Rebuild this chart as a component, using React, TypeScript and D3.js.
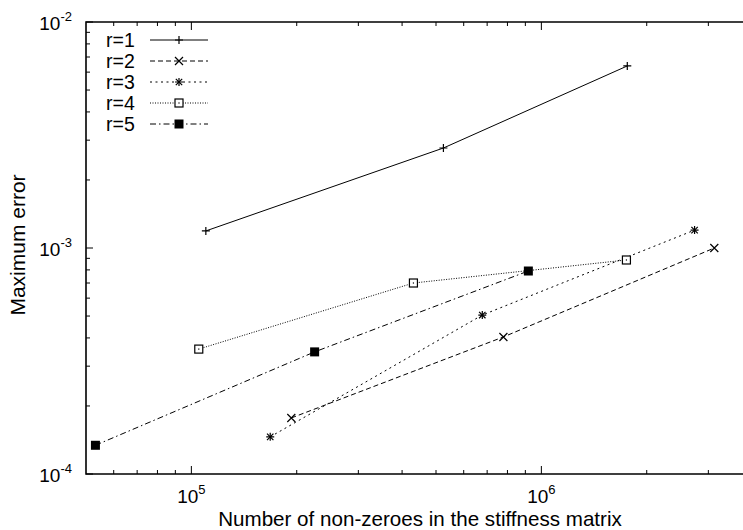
import React, { useEffect, useRef } from 'react';
import * as d3 from 'd3';

// values
const seriesNames = ['r=1', 'r=2', 'r=3', 'r=4', 'r=5'];
const nnzR1 = [1.1e5, 5.25e5, 1.76e6];
const errR1 = [1.19e-3, 2.77e-3, 6.39e-3];
const nnzR2 = [1.93e5, 7.79e5, 3.12e6];
const errR2 = [1.77e-4, 4.04e-4, 1.0e-3];
const nnzR3 = [1.68e5, 6.78e5, 2.74e6];
const errR3 = [1.46e-4, 5.05e-4, 1.2e-3];
const nnzR4 = [1.05e5, 4.31e5, 1.75e6];
const errR4 = [3.57e-4, 7.0e-4, 8.85e-4];
const nnzR5 = [5.32e4, 2.25e5, 9.18e5];
const errR5 = [1.34e-4, 3.47e-4, 7.91e-4];

const xMajor = [1e5, 1e6];
const xMajorExp = ['5', '6'];
const yMajor = [1e-4, 1e-3, 1e-2];
const yMajorExp = ['-4', '-3', '-2'];

const dashes = [null, '5,3', '2,3.5', '1,1.5', '6,3,1.5,3'];
const markers = ['plus', 'cross', 'star', 'box', 'fbox'];

const FONT = '"Liberation Sans", Arial, Helvetica, sans-serif';

const App = () => {
  const svgRef = useRef(null);

  useEffect(() => {
    const svg = d3.select(svgRef.current);
    svg.selectAll('*').remove();

    const width = 743;
    const height = 530;
    const margin = { top: 22, left: 86, bottom: 56 };

    const x = d3.scaleLog().domain([5e4, 5e6]).range([margin.left, margin.left + 700]);
    const y = d3.scaleLog().domain([1e-4, 1e-2]).range([height - margin.bottom, margin.top]);
    const x0 = x.range()[0];
    const x1 = x.range()[1];
    const yb = y.range()[0];
    const yt = y.range()[1];

    const data = [
      [nnzR1, errR1],
      [nnzR2, errR2],
      [nnzR3, errR3],
      [nnzR4, errR4],
      [nnzR5, errR5],
    ].map(([xs, ys], i) => ({
      name: seriesNames[i],
      points: xs.map((v, j) => [v, ys[j]]),
    }));

    const drawMarker = (g, kind, cx, cy) => {
      const s = 4;
      if (kind === 'plus' || kind === 'star') {
        g.append('path').attr('d', `M${cx - s},${cy}H${cx + s}M${cx},${cy - s}V${cy + s}`)
          .attr('stroke', '#000').attr('stroke-width', 1.2).attr('fill', 'none');
      }
      if (kind === 'cross' || kind === 'star') {
        const c = kind === 'star' ? 3.2 : 4;
        g.append('path').attr('d', `M${cx - c},${cy - c}L${cx + c},${cy + c}M${cx - c},${cy + c}L${cx + c},${cy - c}`)
          .attr('stroke', '#000').attr('stroke-width', 1.2).attr('fill', 'none');
      }
      if (kind === 'box') {
        g.append('rect').attr('x', cx - 4).attr('y', cy - 4).attr('width', 8).attr('height', 8)
          .attr('fill', '#fff').attr('stroke', '#000').attr('stroke-width', 1.2);
        g.append('rect').attr('x', cx - 0.6).attr('y', cy - 0.6).attr('width', 1.2).attr('height', 1.2).attr('fill', '#000');
      }
      if (kind === 'fbox') {
        g.append('rect').attr('x', cx - 4.5).attr('y', cy - 4.5).attr('width', 9).attr('height', 9).attr('fill', '#000');
      }
    };

    // ticks (inward, bottom/top and left)
    const ticks = svg.append('g').attr('stroke', '#000').attr('stroke-width', 1);
    const xMinor = [];
    for (let d = 1e4; d <= 1e6; d *= 10) for (let k = 2; k <= 9; k++) xMinor.push(d * k);
    xMinor.filter((v) => x(v) > x0 && x(v) < width).forEach((v) => {
      ticks.append('line').attr('x1', x(v)).attr('x2', x(v)).attr('y1', yb).attr('y2', yb - 4);
      ticks.append('line').attr('x1', x(v)).attr('x2', x(v)).attr('y1', yt).attr('y2', yt + 4);
    });
    xMajor.forEach((v) => {
      ticks.append('line').attr('x1', x(v)).attr('x2', x(v)).attr('y1', yb).attr('y2', yb - 8);
      ticks.append('line').attr('x1', x(v)).attr('x2', x(v)).attr('y1', yt).attr('y2', yt + 8);
    });
    const yMinor = [];
    for (let d = 1e-4; d < 1e-2; d *= 10) for (let k = 2; k <= 9; k++) yMinor.push(d * k);
    yMinor.forEach((v) => {
      ticks.append('line').attr('x1', x0).attr('x2', x0 + 4).attr('y1', y(v)).attr('y2', y(v));
    });
    yMajor.forEach((v) => {
      ticks.append('line').attr('x1', x0).attr('x2', x0 + 7).attr('y1', y(v)).attr('y2', y(v));
    });

    // frame
    svg.append('path')
      .attr('d', `M${x1},${yt}H${x0}V${yb}H${x1}`)
      .attr('fill', 'none').attr('stroke', '#000').attr('stroke-width', 1.6);

    // tick labels
    yMajor.forEach((v, i) => {
      const t = svg.append('text').attr('x', 72).attr('y', y(v) + 8)
        .attr('text-anchor', 'end').attr('font-family', FONT).attr('font-size', 19);
      t.append('tspan').text('10');
      t.append('tspan').attr('font-size', 13).attr('dy', -9).text(yMajorExp[i]);
    });
    xMajor.forEach((v, i) => {
      const t = svg.append('text').attr('x', x(v)).attr('y', 503)
        .attr('text-anchor', 'middle').attr('font-family', FONT).attr('font-size', 19);
      t.append('tspan').text('10');
      t.append('tspan').attr('font-size', 13).attr('dy', -9).text(xMajorExp[i]);
    });

    // axis titles
    svg.append('text').attr('x', 420).attr('y', 526).attr('text-anchor', 'middle')
      .attr('font-family', FONT).attr('font-size', 20.6).text('Number of non-zeroes in the stiffness matrix');
    svg.append('text').attr('transform', `translate(25,${245}) rotate(-90)`).attr('text-anchor', 'middle')
      .attr('font-family', FONT).attr('font-size', 21).text('Maximum error');

    // series
    const line = d3.line().x((d) => x(d[0])).y((d) => y(d[1]));
    data.forEach((s, i) => {
      svg.append('path').datum(s.points).attr('d', line)
        .attr('fill', 'none').attr('stroke', '#000').attr('stroke-width', 1)
        .attr('stroke-dasharray', dashes[i]);
      const mg = svg.append('g');
      s.points.forEach((p) => drawMarker(mg, markers[i], x(p[0]), y(p[1])));
    });

    // legend
    const legend = svg.append('g').attr('transform', 'translate(0,40)');
    data.forEach((s, i) => {
      const ly = i * 21;
      legend.append('text').attr('x', 106).attr('y', ly + 7).attr('font-family', FONT)
        .attr('font-size', 19.5).text(s.name);
      legend.append('line').attr('x1', 150).attr('x2', 208).attr('y1', ly).attr('y2', ly)
        .attr('stroke', '#000').attr('stroke-width', 1).attr('stroke-dasharray', dashes[i]);
      drawMarker(legend, markers[i], 179, ly);
    });
  }, []);

  return (
    <svg
      ref={svgRef}
      width={743}
      height={530}
      style={{ position: 'absolute', left: 0, top: 0, background: '#fff' }}
    />
  );
};

export default App;
